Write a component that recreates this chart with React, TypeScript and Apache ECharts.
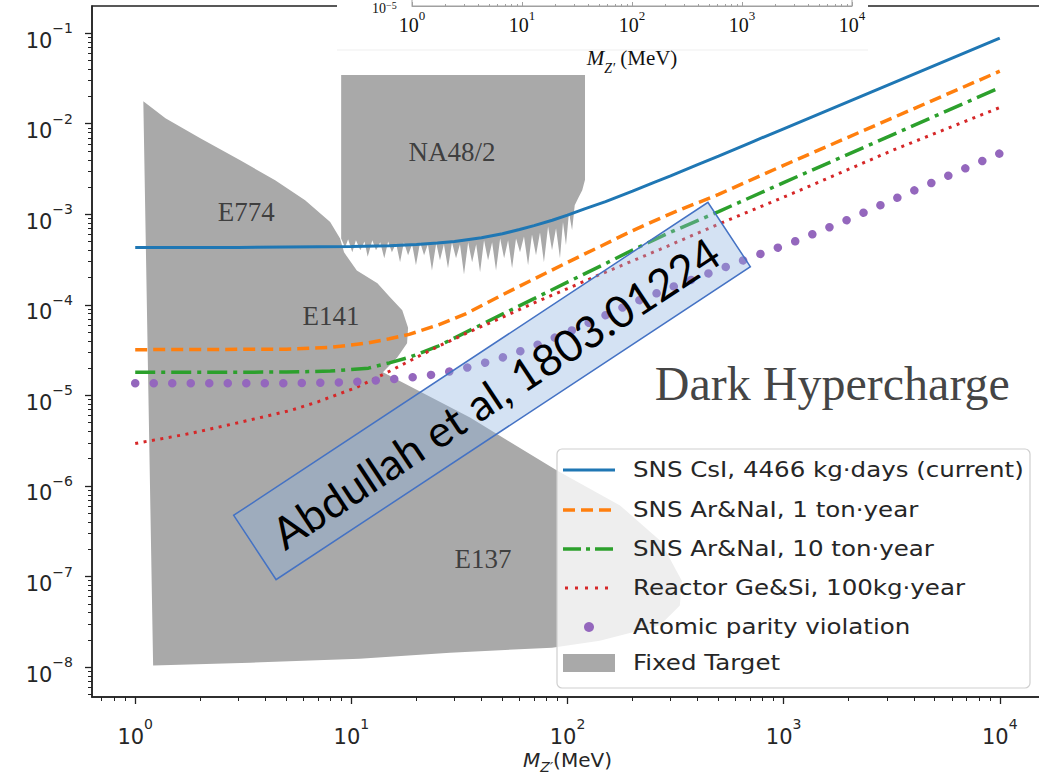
import React, { useEffect, useRef } from "react";
import * as echarts from "echarts";

// ---------------- data (mass in MeV, coupling g) ----------------
const cesiumMass = [1, 3, 10, 15, 20, 25, 30, 40, 50, 60, 70, 85, 100, 120, 150, 200, 250, 300, 400, 500, 700, 1000, 10000];
const cesiumCoupling = [4.3e-4, 4.3e-4, 4.4e-4, 4.5e-4, 4.65e-4, 4.82e-4, 5.0e-4, 5.5e-4, 6.1e-4, 6.8e-4, 7.5e-4, 8.6e-4, 9.8e-4, 1.15e-3, 1.38e-3, 1.8e-3, 2.24e-3, 2.65e-3, 3.54e-3, 4.4e-3, 6.16e-3, 8.8e-3, 8.8e-2];

const arNaMass = [1, 5, 8, 12, 15, 18.5, 25, 34, 50, 70, 100, 144, 200, 295, 500, 1000, 10000];
const arNa1tCoupling = [3.2e-5, 3.24e-5, 3.39e-5, 3.8e-5, 4.22e-5, 4.72e-5, 5.96e-5, 8.0e-5, 1.29e-4, 1.93e-4, 2.95e-4, 4.5e-4, 6.6e-4, 1.0e-3, 1.66e-3, 3.47e-3, 3.8e-2];
const arNa10tCoupling = [1.8e-5, 1.81e-5, 1.86e-5, 2.0e-5, 2.29e-5, 2.63e-5, 3.47e-5, 5.0e-5, 7.9e-5, 1.17e-4, 1.78e-4, 2.72e-4, 4.03e-4, 6.24e-4, 1.07e-3, 2.24e-3, 2.5e-2];

const reactorMass = [1, 1.8, 3, 5.2, 7, 10.6, 15.1, 20, 25.7, 35, 48.7, 70, 100, 141, 200, 268, 545, 1100, 3200, 10000];
const reactorCoupling = [2.95e-6, 3.8e-6, 5.0e-6, 6.8e-6, 8.5e-6, 1.23e-5, 1.86e-5, 2.63e-5, 3.55e-5, 5.0e-5, 7.1e-5, 1.05e-4, 1.51e-4, 2.16e-4, 3.06e-4, 4.1e-4, 8.5e-4, 1.7e-3, 5.1e-3, 1.51e-2];

const apvMass = [1, 5, 10, 15, 20, 24, 30, 35, 45, 52, 70, 100, 150, 204, 300, 410, 720, 1100, 2000, 3200, 10000];
const apvCoupling = [1.36e-5, 1.36e-5, 1.4e-5, 1.5e-5, 1.6e-5, 1.7e-5, 1.88e-5, 2.05e-5, 2.42e-5, 2.7e-5, 3.5e-5, 4.97e-5, 7.7e-5, 1.07e-4, 1.55e-4, 2.05e-4, 3.4e-4, 4.9e-4, 8.8e-4, 1.45e-3, 4.7e-3];

// fixed-target excluded region (E774 + E141 + E137), outline vertices [MeV, g]
const fixedTargetOutline = [
  [1.09, 1.77e-2], [1.38, 1.15e-2], [2.0, 6.9e-3], [3.06, 3.95e-3], [4.44, 2.38e-3], [6.11, 1.43e-3],
  [7.98, 8.2e-4], [8.87, 5.4e-4], [9.25, 3.8e-4], [10.6, 2.4e-4], [13.2, 1.73e-4], [15.1, 1.21e-4],
  [17.2, 8.7e-5], [18.3, 5.6e-5], [18.1, 3.76e-5], [16.3, 2.63e-5], [14.0, 1.8e-5], [35.4, 5.7e-6],
  [89.4, 1.48e-6], [175, 6.1e-7], [268, 2.5e-7], [338, 9.0e-8], [331, 4.8e-8], [268, 2.9e-8],
  [141, 1.96e-8], [84.8, 1.64e-8], [28.6, 1.44e-8], [10.9, 1.24e-8], [3.4, 1.12e-8], [1.21, 1.04e-8],
];

// NA48/2 excluded region outline [MeV, g]
const na48Outline = [
  [8.97, 0.19], [120.5, 0.19], [120.5, 2.4e-3], [117, 1.84e-3], [112, 1.5e-3], [108, 1.26e-3],
  [105, 6.65e-4], [101.6, 1.05e-3], [98.4, 4.55e-4], [95.3, 8.2e-4], [92.3, 3.27e-4], [88.5, 7.0e-4],
  [84.8, 4.0e-4], [81.3, 7.35e-4], [77.8, 2.95e-4], [74.6, 6.3e-4], [71.5, 3.52e-4], [68.5, 6.0e-4],
  [65.7, 2.73e-4], [62.9, 5.7e-4], [60.3, 3.8e-4], [57.8, 5.4e-4], [55.4, 2.53e-4], [53.1, 5.16e-4],
  [50.9, 3.27e-4], [48.8, 5.4e-4], [46.7, 2.4e-4], [44.8, 4.9e-4], [42.9, 3.1e-4], [41.1, 5.16e-4],
  [39.4, 2.29e-4], [37.8, 4.67e-4], [36.2, 2.95e-4], [34.7, 4.9e-4], [33.2, 2.17e-4], [31.8, 4.67e-4],
  [30.5, 3.27e-4], [29.2, 4.9e-4], [28.0, 2.53e-4], [26.8, 4.67e-4], [25.7, 3.1e-4], [24.7, 4.8e-4],
  [23.6, 2.4e-4], [22.6, 4.67e-4], [21.7, 3.52e-4], [20.8, 4.9e-4], [19.9, 2.73e-4], [19.1, 4.67e-4],
  [18.3, 3.52e-4], [17.5, 4.9e-4], [16.8, 2.95e-4], [16.1, 4.8e-4], [15.4, 3.8e-4], [14.8, 5.0e-4],
  [14.2, 3.27e-4], [13.6, 4.9e-4], [13.0, 4.0e-4], [12.5, 5.16e-4], [11.9, 3.4e-4], [11.5, 5.0e-4],
  [11.0, 4.0e-4], [10.5, 5.16e-4], [10.1, 3.8e-4], [9.66, 5.3e-4], [9.35, 4.3e-4], [8.97, 5.4e-4],
];

const regionNames = ["E774", "E141", "E137", "NA48/2"];
const regionMass = [3.26, 8.06, 40.7, 29.2];
const regionCoupling = [1.05e-3, 7.46e-5, 1.58e-7, 4.84e-3];
const titleText = "Dark Hypercharge";
const titleMass = 1680;
const titleCoupling = 1.36e-5;

const legendLabels = [
  "SNS CsI, 4466 kg\u00b7days (current)",
  "SNS Ar&NaI, 1 ton\u00b7year",
  "SNS Ar&NaI, 10 ton\u00b7year",
  "Reactor Ge&Si, 100kg\u00b7year",
  "Atomic parity violation",
  "Fixed Target",
];
const annotationText = "Abdullah et al, 1803.01224";

const xTickExponents = [0, 1, 2, 3, 4];
const yTickExponents = [-8, -7, -6, -5, -4, -3, -2, -1];
const insetTickExponents = [0, 1, 2, 3, 4];
const minorMultipliers = [2, 3, 4, 5, 6, 7, 8, 9];

// ---------------- helpers ----------------
const L = Math.log10;
const toPts = (ms: number[], gs: number[]) => ms.map((m, i) => [L(m), L(gs[i])]);
const minorTicks = (lo: number, hi: number) => {
  const out: number[] = [];
  for (let n = Math.floor(lo) - 1; n <= Math.ceil(hi); n++) {
    for (const k of minorMultipliers) {
      const v = n + L(k);
      if (v > lo && v < hi) out.push(v);
    }
  }
  return out;
};
const expText = (v: number) => {
  const e = Math.round(v);
  return e < 0 ? "\u2212" + -e : String(e);
};

const TXT = "#262626";
const SANS = "DejaVu Sans";
const SERIF = "Liberation Serif";

const X_MIN = -0.2, X_MAX = 4.2, Y_MIN = -8.33, Y_MAX = -0.7;

const mainRich = {
  b: { fontFamily: SANS, fontSize: 21, lineHeight: 30, verticalAlign: "bottom", color: TXT },
  s: { fontFamily: SANS, fontSize: 14, lineHeight: 18, verticalAlign: "top", color: TXT },
};
const insetRich = {
  b: { fontFamily: SERIF, fontSize: 20, lineHeight: 26, verticalAlign: "bottom", color: "#111" },
  s: { fontFamily: SERIF, fontSize: 13, lineHeight: 16, verticalAlign: "top", color: "#111" },
};

function polygonSeries(name: string, verts: number[][], color: string, z: number) {
  const pts = verts.map(([m, g]) => [L(m), L(g)]);
  return {
    type: "custom",
    name,
    xAxisIndex: 0,
    yAxisIndex: 0,
    z,
    silent: true,
    clip: true,
    encode: { x: 0, y: 1 },
    data: pts,
    renderItem: (params: any, api: any) => {
      if (params.dataIndex !== 0) return null;
      return {
        type: "polygon",
        shape: { points: pts.map((p) => api.coord(p)) },
        style: { fill: color, stroke: null },
      };
    },
  };
}

function lineSeries(name: string, pts: number[][], lineStyle: any) {
  return {
    type: "line",
    name,
    xAxisIndex: 0,
    yAxisIndex: 0,
    data: pts,
    showSymbol: false,
    symbol: "none",
    smooth: false,
    silent: true,
    z: 3,
    lineStyle,
  };
}

const BLUE = "#1f77b4", ORANGE = "#ff7f0e", GREEN = "#2ca02c", RED = "#d62728", PURPLE = "#9467bd", GRAY = "#a9a9a9";

function buildOption() {
  const legendRows = [470, 510, 549, 588, 627, 663];
  const hx1 = 563, hx2 = 615, tx = 633;
  const legendGraphics: any[] = [
    {
      type: "rect", z: 30,
      shape: { x: 557, y: 449, width: 473, height: 239, r: 5 },
      style: { fill: "rgba(255,255,255,0.8)", stroke: "#cfcfcf", lineWidth: 1.2 },
    },
    { type: "line", z: 31, shape: { x1: hx1, y1: legendRows[0], x2: hx2, y2: legendRows[0] }, style: { stroke: BLUE, lineWidth: 3 } },
    { type: "line", z: 31, shape: { x1: hx1, y1: legendRows[1], x2: hx2, y2: legendRows[1] }, style: { stroke: ORANGE, lineWidth: 3.5, lineDash: [12, 6] } },
    { type: "line", z: 31, shape: { x1: hx1, y1: legendRows[2], x2: hx2, y2: legendRows[2] }, style: { stroke: GREEN, lineWidth: 3.5, lineDash: [18, 5, 4, 5] } },
    { type: "line", z: 31, shape: { x1: hx1 + 2, y1: legendRows[3], x2: hx2, y2: legendRows[3] }, style: { stroke: RED, lineWidth: 3, lineDash: [3, 7] } },
    { type: "circle", z: 31, shape: { cx: 589, cy: legendRows[4], r: 5 }, style: { fill: PURPLE } },
    { type: "rect", z: 31, shape: { x: hx1, y: legendRows[5] - 9, width: hx2 - hx1, height: 18 }, style: { fill: GRAY } },
  ];
  legendLabels.forEach((t, i) => {
    legendGraphics.push({
      type: "text", z: 31, x: tx, y: legendRows[i], scaleX: 1.14,
      style: { text: t, fontFamily: SANS, fontSize: 21.5, fill: TXT, align: "left", verticalAlign: "middle" },
    });
  });

  const annotation = {
    type: "group", x: 492, y: 391, rotation: 0.583, z: 25,
    children: [
      {
        type: "rect", z: 25,
        shape: { x: -284, y: -38.5, width: 568, height: 77 },
        style: { fill: "rgba(143,178,223,0.38)", stroke: "#4472c4", lineWidth: 1.5 },
      },
      {
        type: "text", z: 26, x: 2, y: 3,
        style: { text: annotationText, fontFamily: "Lato", fontSize: 44, fill: "#000", align: "center", verticalAlign: "middle" },
      },
    ],
  };

  const insetGraphics = [
    { type: "rect", z: 40, shape: { x: 337, y: 0, width: 531, height: 75 }, style: { fill: "#ffffff" } },
    { type: "line", z: 40, shape: { x1: 337, y1: 50, x2: 868, y2: 50 }, style: { stroke: "#efefef", lineWidth: 1 } },
    {
      type: "text", z: 42, x: 372, y: 0,
      style: { text: "{b|10}{s|\u22125}", rich: { b: { fontFamily: SERIF, fontSize: 14, lineHeight: 15, verticalAlign: "bottom", fill: "#111" }, s: { fontFamily: SERIF, fontSize: 10, lineHeight: 11, verticalAlign: "top", fill: "#111" } } },
    },
  ];

  return {
    animation: false,
    backgroundColor: "#ffffff",
    grid: [
      { left: 92, top: 6, width: 951, height: 691, show: true, borderColor: "#222", borderWidth: 1.5, backgroundColor: "transparent", containLabel: false, outerBoundsMode: "none" },
      { left: 412, top: -10, width: 440, height: 16, show: true, borderColor: "#a0a0a0", borderWidth: 1, backgroundColor: "transparent", z: 41, containLabel: false, outerBoundsMode: "none" },
    ],
    xAxis: [
      {
        type: "value", gridIndex: 0, min: X_MIN, max: X_MAX, position: "bottom",
        axisLine: { show: true, onZero: false, lineStyle: { color: "#222", width: 1.5 } },
        axisTick: { show: true, customValues: xTickExponents, length: 7, lineStyle: { color: "#222", width: 1.3 } },
        axisLabel: { show: true, customValues: xTickExponents, margin: 20, formatter: (v: number) => `{b|10}{s|${expText(v)}}`, rich: mainRich },
        splitLine: { show: false },
        name: "{it|M}{sub|Z\u2032}{n|(MeV)}",
        nameLocation: "middle",
        nameGap: 53,
        nameMoveOverlap: false,
        nameTextStyle: {
          rich: {
            it: { fontFamily: SANS, fontStyle: "italic", fontSize: 20, lineHeight: 24, verticalAlign: "top", color: TXT },
            sub: { fontFamily: SANS, fontStyle: "italic", fontSize: 14, lineHeight: 24, verticalAlign: "bottom", color: TXT },
            n: { fontFamily: SANS, fontSize: 20, lineHeight: 24, verticalAlign: "top", color: TXT },
          },
        },
      },
      {
        type: "value", gridIndex: 0, min: X_MIN, max: X_MAX, position: "bottom",
        axisLine: { show: false, onZero: false },
        axisTick: { show: true, customValues: minorTicks(X_MIN, X_MAX), length: 4, lineStyle: { color: "#222", width: 1 } },
        axisLabel: { show: false },
        splitLine: { show: false },
      },
      {
        type: "value", gridIndex: 1, min: 0, max: 4, position: "bottom", z: 41,
        axisLine: { show: true, onZero: false, lineStyle: { color: "#a0a0a0", width: 1 } },
        axisTick: { show: true, inside: true, customValues: insetTickExponents, length: 4, lineStyle: { color: "#a0a0a0", width: 1 } },
        axisLabel: { show: true, customValues: insetTickExponents, margin: 3, formatter: (v: number) => `{b|10}{s|${expText(v)}}`, rich: insetRich },
        splitLine: { show: false },
        name: "{it|M}{sub|Z\u2032}{n| (MeV)}",
        nameLocation: "middle",
        nameGap: 41,
        nameMoveOverlap: false,
        nameTextStyle: {
          rich: {
            it: { fontFamily: SERIF, fontStyle: "italic", fontSize: 21, lineHeight: 28, verticalAlign: "top", color: "#111" },
            sub: { fontFamily: SERIF, fontStyle: "italic", fontSize: 14, lineHeight: 28, verticalAlign: "bottom", color: "#111" },
            n: { fontFamily: SERIF, fontSize: 21, lineHeight: 28, verticalAlign: "top", color: "#111" },
          },
        },
      },
      {
        type: "value", gridIndex: 1, min: 0, max: 4, position: "bottom", z: 41,
        axisLine: { show: false, onZero: false },
        axisTick: { show: true, inside: true, customValues: minorTicks(0, 4), length: 2, lineStyle: { color: "#a0a0a0", width: 1 } },
        axisLabel: { show: false },
        splitLine: { show: false },
      },
    ],
    yAxis: [
      {
        type: "value", gridIndex: 0, min: Y_MIN, max: Y_MAX, position: "left",
        axisLine: { show: true, onZero: false, lineStyle: { color: "#222", width: 1.5 } },
        axisTick: { show: true, customValues: yTickExponents, length: 7, lineStyle: { color: "#222", width: 1.3 } },
        axisLabel: { show: true, customValues: yTickExponents, margin: 19, padding: [6, 0, 0, 0], formatter: (v: number) => `{b|10}{s|${expText(v)}}`, rich: mainRich },
        splitLine: { show: false },
      },
      {
        type: "value", gridIndex: 0, min: Y_MIN, max: Y_MAX, position: "left",
        axisLine: { show: false, onZero: false },
        axisTick: { show: true, customValues: minorTicks(Y_MIN, Y_MAX), length: 4, lineStyle: { color: "#222", width: 1 } },
        axisLabel: { show: false },
        splitLine: { show: false },
      },
      { type: "value", gridIndex: 1, min: 0, max: 1, show: false },
    ],
    graphic: [...insetGraphics, annotation, ...legendGraphics],
    series: [
      polygonSeries("Fixed Target", fixedTargetOutline, GRAY, 1),
      polygonSeries("NA48/2", na48Outline, GRAY, 1),
      {
        type: "scatter", name: "region labels", xAxisIndex: 0, yAxisIndex: 0, z: 2, silent: true,
        symbolSize: 1, itemStyle: { color: "transparent" },
        data: [
          ...regionNames.map((n, i) => ({
            value: [L(regionMass[i]), L(regionCoupling[i])],
            label: { show: true, position: "inside", formatter: n, fontFamily: SERIF, fontSize: 27, color: "#222" },
          })),
          {
            value: [L(titleMass), L(titleCoupling)],
            label: { show: true, position: "inside", formatter: titleText, fontFamily: SERIF, fontSize: 48, color: "#111" },
          },
        ],
      },
      lineSeries(legendLabels[0], toPts(cesiumMass, cesiumCoupling), { color: BLUE, width: 3 }),
      lineSeries(legendLabels[1], toPts(arNaMass, arNa1tCoupling), { color: ORANGE, width: 3.5, type: [12, 6] }),
      lineSeries(legendLabels[2], toPts(arNaMass, arNa10tCoupling), { color: GREEN, width: 3.5, type: [20, 6, 4, 6] }),
      lineSeries(legendLabels[3], toPts(reactorMass, reactorCoupling), { color: RED, width: 3, type: [3, 5.5] }),
      lineSeries(legendLabels[4], toPts(apvMass, apvCoupling), { color: PURPLE, width: 8.5, type: [0.01, 18.5], cap: "round" }),
    ],
  };
}

export default function App() {
  const ref = useRef<HTMLDivElement>(null);
  useEffect(() => {
    document.body.style.margin = "0";
    const chart = echarts.init(ref.current as HTMLDivElement, null, { renderer: "svg" });
    chart.setOption(buildOption() as any);
    return () => chart.dispose();
  }, []);
  return <div ref={ref} style={{ width: 1039, height: 775 }} />;
}
